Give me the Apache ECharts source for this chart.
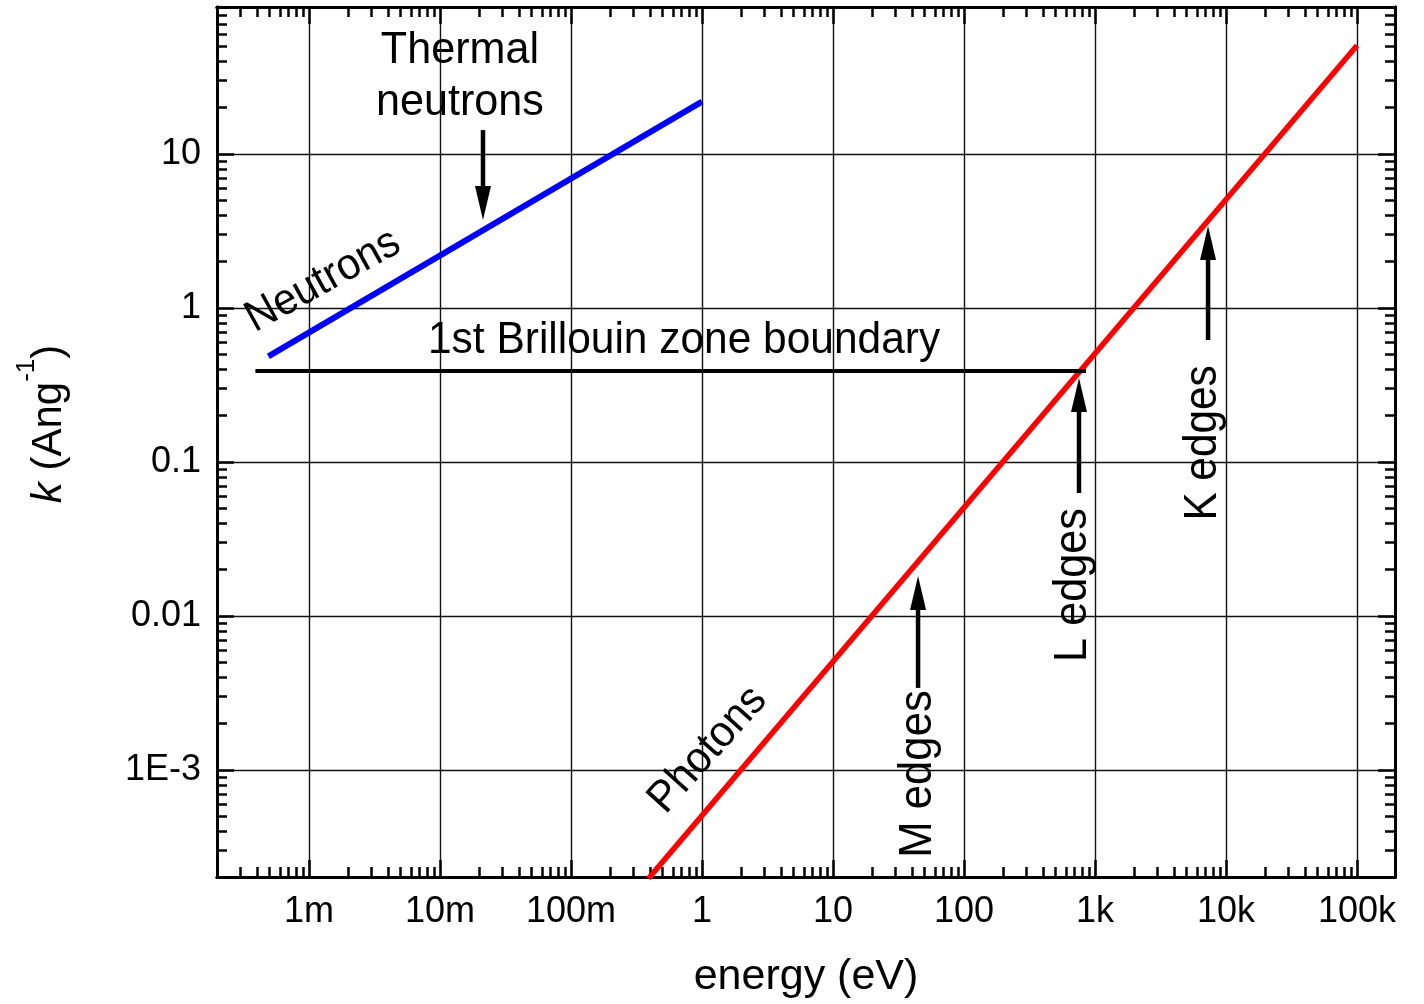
<!DOCTYPE html>
<html>
<head>
<meta charset="utf-8">
<script src="https://cdn.jsdelivr.net/npm/echarts@6/dist/echarts.min.js"></script>
<style>
  html, body { margin: 0; padding: 0; background: #fff; }
  #chart { width: 1424px; height: 1004px; }
</style>
</head>
<body>
<div id="chart"></div>
<script>
// Wave number k versus particle energy for neutrons and photons (log-log)
const FONT = "'Liberation Sans', Arial, Helvetica, sans-serif";

// axis ranges: energy in eV, k in 1/Angstrom
const xRange = [1.986e-4, 1.95e5];
const yRange = [2.018e-4, 90.06];

// major ticks and their labels
const xMajorTicks = [1e-3, 1e-2, 1e-1, 1, 10, 100, 1e3, 1e4, 1e5];
const xTickLabels = ['1m', '10m', '100m', '1', '10', '100', '1k', '10k', '100k'];
const yMajorTicks = [1e-3, 1e-2, 1e-1, 1, 10];
const yTickLabels = ['1E-3', '0.01', '0.1', '1', '10'];

// series values: [energy (eV), k (1/Ang)]
const neutrons = [[4.9e-4, 0.485], [1, 21.9]];
const photons = [[0.39, 1.97e-4], [1e5, 50.7]];
const brillouinBoundary = [[3.9e-4, 0.39], [853, 0.39]];

// arrows: [energy, k at tail, k at head]
const arrows = [
  [0.0213, 14.3, 3.73],
  [44.6, 3.41e-3, 0.01817],
  [755, 0.0629, 0.351],
  [7295, 0.619, 3.41]
];

// annotation texts and their anchors [energy, k]
const noteTexts = ['Thermal\nneutrons', 'Neutrons', '1st Brillouin zone boundary', 'Photons', 'M edges', 'L edges', 'K edges'];
const noteAnchors = [
  [0.0142, 31.6],
  [1.28e-3, 1.50],
  [0.730, 0.611],
  [1.11, 1.35e-3],
  [44.6, 9.41e-4],
  [679, 0.0159],
  [6680, 0.1328]
];

// per-annotation text styling (size, horizontal squeeze, rotation in degrees)
const noteStyle = [
  { size: 44, sx: 0.98, rot: 0, lh: 52 },
  { size: 44, sx: 0.95, rot: 29 },
  { size: 44, sx: 0.965, rot: 0 },
  { size: 44, sx: 0.95, rot: 48 },
  { size: 47, sx: 0.93, rot: 90 },
  { size: 47, sx: 0.92, rot: 90 },
  { size: 47, sx: 0.9, rot: 90 }
];

// minor ticks at 2..9 of every decade inside a range
function minorTicks(lo, hi) {
  const out = [];
  for (let d = Math.floor(Math.log10(lo)); d <= Math.ceil(Math.log10(hi)); d++) {
    for (let m = 2; m <= 9; m++) {
      const v = m * Math.pow(10, d);
      if (v > lo && v < hi) out.push(v);
    }
  }
  return out;
}
const xMinorTicks = minorTicks(xRange[0], xRange[1]);
const yMinorTicks = minorTicks(yRange[0], yRange[1]);

function labelFor(ticks, labels) {
  return function (v) {
    const i = ticks.findIndex(t => Math.abs(Math.log10(t) - Math.log10(v)) < 1e-6);
    return i < 0 ? '' : labels[i];
  };
}

const axisLineStyle = { color: '#000', width: 3 };
const tickLineStyle = { color: '#000', width: 2.5 };
const gridLineStyle = { color: '#111', width: 1.4 };

function makeAxis(range, position, tickValues, tickLen, labelOpt, showGrid) {
  return {
    type: 'log',
    logBase: 10,
    position: position,
    min: range[0],
    max: range[1],
    axisLine: { show: true, onZero: false, lineStyle: axisLineStyle },
    axisTick: { show: true, inside: true, length: tickLen, customValues: tickValues, lineStyle: tickLineStyle },
    axisLabel: labelOpt || { show: false },
    splitLine: { show: !!showGrid, lineStyle: gridLineStyle },
    minorTick: { show: false },
    minorSplitLine: { show: false },
    silent: true
  };
}

const xMain = makeAxis(xRange, 'bottom', xMajorTicks, 17, {
  show: true,
  customValues: xMajorTicks,
  formatter: labelFor(xMajorTicks, xTickLabels),
  margin: 17,
  fontSize: 36,
  color: '#000',
  fontFamily: FONT
}, true);
xMain.name = 'energy (eV)';
xMain.nameLocation = 'middle';
xMain.nameGap = 79;
xMain.nameTextStyle = { fontSize: 43, color: '#000', fontFamily: FONT };

const yMain = makeAxis(yRange, 'left', yMajorTicks, 17, {
  show: true,
  customValues: yMajorTicks,
  formatter: labelFor(yMajorTicks, yTickLabels),
  margin: 16,
  fontSize: 36,
  color: '#000',
  fontFamily: FONT
}, true);
yMain.name = '{i|k}{t| (Ang}{sup|-1}{t|)}';
yMain.nameLocation = 'middle';
yMain.nameRotate = 90;
yMain.nameGap = 133;
yMain.nameTextStyle = {
  color: '#000',
  fontFamily: FONT,
  fontSize: 42,
  padding: [0, 0, 0, 36],
  rich: {
    i: { fontSize: 42, fontStyle: 'italic', fontFamily: FONT, color: '#000', lineHeight: 70 },
    t: { fontSize: 42, fontFamily: FONT, color: '#000', lineHeight: 70 },
    sup: { fontSize: 26, fontFamily: FONT, color: '#000', lineHeight: 26, verticalAlign: 'top' }
  }
};

const chart = echarts.init(document.getElementById('chart'), null, { renderer: 'canvas' });

chart.setOption({
  backgroundColor: '#fff',
  animation: false,
  grid: { left: 217, top: 7, right: 29, bottom: 127, containLabel: false },
  xAxis: [
    xMain,
    makeAxis(xRange, 'bottom', xMinorTicks, 10),
    makeAxis(xRange, 'top', xMajorTicks, 17),
    makeAxis(xRange, 'top', xMinorTicks, 10)
  ],
  yAxis: [
    yMain,
    makeAxis(yRange, 'left', yMinorTicks, 10),
    makeAxis(yRange, 'right', yMajorTicks, 17),
    makeAxis(yRange, 'right', yMinorTicks, 10)
  ],
  series: [
    {
      name: 'Neutrons',
      type: 'line',
      xAxisIndex: 0, yAxisIndex: 0,
      data: neutrons,
      symbol: 'none',
      clip: true,
      lineStyle: { color: '#0000ff', width: 6 },
      silent: true,
      z: 3
    },
    {
      name: 'Photons',
      type: 'line',
      xAxisIndex: 0, yAxisIndex: 0,
      data: photons,
      symbol: 'none',
      clip: true,
      lineStyle: { color: '#ff0000', width: 5.5 },
      silent: true,
      z: 3
    },
    {
      name: '1st Brillouin zone boundary',
      type: 'line',
      xAxisIndex: 0, yAxisIndex: 0,
      data: brillouinBoundary,
      symbol: 'none',
      clip: true,
      lineStyle: { color: '#000', width: 4 },
      silent: true,
      z: 4
    },
    {
      name: 'arrows',
      type: 'custom',
      coordinateSystem: 'cartesian2d',
      xAxisIndex: 0, yAxisIndex: 0,
      data: arrows,
      encode: { x: 0, y: [1, 2] },
      silent: true,
      z: 5,
      renderItem: function (params, api) {
        const e = api.value(0);
        const a = api.coord([e, api.value(1)]);
        const b = api.coord([e, api.value(2)]);
        const dx = b[0] - a[0], dy = b[1] - a[1];
        const len = Math.hypot(dx, dy);
        const ux = dx / len, uy = dy / len;
        const headLen = 34, headHalf = 8;
        const bx = b[0] - ux * headLen, by = b[1] - uy * headLen;
        return {
          type: 'group',
          children: [
            {
              type: 'line',
              shape: { x1: a[0], y1: a[1], x2: bx + ux * 2, y2: by + uy * 2 },
              style: { stroke: '#000', lineWidth: 4.5 }
            },
            {
              type: 'polygon',
              shape: { points: [[b[0], b[1]], [bx - uy * headHalf, by + ux * headHalf], [bx + uy * headHalf, by - ux * headHalf]] },
              style: { fill: '#000' }
            }
          ]
        };
      }
    },
    {
      name: 'notes',
      type: 'custom',
      coordinateSystem: 'cartesian2d',
      xAxisIndex: 0, yAxisIndex: 0,
      data: noteAnchors.map((p, i) => [p[0], p[1], i]),
      encode: { x: 0, y: 1 },
      silent: true,
      z: 6,
      renderItem: function (params, api) {
        const p = api.coord([api.value(0), api.value(1)]);
        const i = api.value(2);
        const s = noteStyle[i];
        return {
          type: 'text',
          x: p[0],
          y: p[1],
          rotation: s.rot * Math.PI / 180,
          scaleX: s.sx,
          style: {
            text: noteTexts[i],
            fontSize: s.size,
            fontFamily: FONT,
            fill: '#000',
            align: 'center',
            verticalAlign: 'middle',
            lineHeight: s.lh || s.size
          }
        };
      }
    }
  ]
});
</script>
</body>
</html>
